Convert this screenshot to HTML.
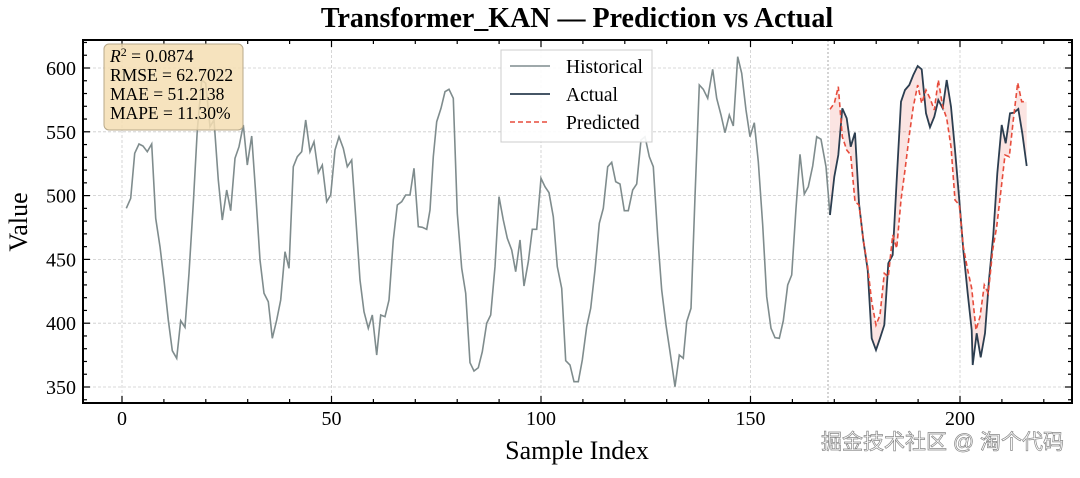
<!DOCTYPE html>
<html><head><meta charset="utf-8"><style>
body{margin:0;background:#fff;width:1080px;height:473px;overflow:hidden}
svg text{font-family:"Liberation Serif",serif}
</style></head><body>
<svg id="s" width="1080" height="473" xmlns="http://www.w3.org/2000/svg"></svg>
<script>
const s=document.getElementById('s');let h='';
const L=83,R=1072,T=40,B=403;
const X=v=>122+v*4.19, Y=v=>68+(600-v)*1.276;
for(let v=350;v<=600;v+=50)h+=`<line x1="${L}" x2="${R}" y1="${Y(v)}" y2="${Y(v)}" stroke="#ccc" stroke-width="0.8" stroke-dasharray="3,2"/>`;
for(let v=0;v<=200;v+=50)h+=`<line y1="${T}" y2="${B}" x1="${X(v)}" x2="${X(v)}" stroke="#ccc" stroke-width="0.8" stroke-dasharray="3,2"/>`;
h+=`<line y1="${T}" y2="${B}" x1="828" x2="828" stroke="#aaa" stroke-width="1" stroke-dasharray="2,2"/>`;
const tr=(a,ox,oy)=>a.map(p=>[ox+p[0]/3,oy+p[1]/3]);
const g1=tr([[130,505],[143,475],[155,340],[168,312],[180,318],[193,335],[206,312],[218,535],[231,620],[243,720],[256,840],[268,932],[281,955],[293,842],[306,862],[318,700],[331,490],[343,270],[356,120],[368,130],[381,260],[393,240],[406,420],[418,540],[431,450],[443,512],[456,355],[468,320],[481,255],[493,375],[506,288],[518,460],[531,660],[543,760],[556,785],[568,895],[581,840],[593,780],[606,635],[618,685],[631,380],[643,350],[656,335],[668,240],[681,335],[693,305],[706,398],[718,375],[731,485],[743,465],[756,330],[768,290],[781,325],[793,380],[806,360],[818,530],[831,720],[843,815],[856,865],[868,825],[881,945],[893,825],[906,830],[918,780],[931,600],[943,495],[956,485],[968,465],[981,465],[993,385],[1006,560],[1018,562],[1031,568]],83,40);
const g2=tr([[0,510],[10,350],[20,245],[33,205],[45,155],[57,148],[70,175],[82,520],[95,685],[107,760],[120,968],[132,993],[145,983],[157,935],[170,850],[182,825],[195,680],[207,470],[220,540],[232,595],[245,630],[257,695],[270,600],[282,738],[295,665],[307,568],[320,568],[333,415],[345,440],[357,458],[370,530],[382,680],[395,745],[407,962],[420,975],[432,1025],[445,1025],[457,960],[470,860],[482,805],[495,690],[508,550],[520,505],[533,380],[545,367],[557,425],[570,432],[583,512],[595,512],[608,450],[620,432],[633,300],[645,290],[658,350],[670,380],[683,590],[695,750],[708,855],[720,935],[735,1040],[748,945],[760,955],[770,845],[783,805],[795,470],[808,135],[820,148],[833,175],[848,88],[860,175],[873,225],[885,278],[898,225],[910,258],[923,50],[935,100],[948,210],[960,290],[973,248],[985,365],[998,555],[1010,770],[1023,865],[1035,893],[1048,895],[1060,842],[1073,735],[1085,705],[1098,505],[1110,343],[1123,462],[1135,440],[1148,378],[1160,290]],430,40);
const g3=tr([[63,298],[78,380],[90,525]],800,40);
const act=tr([[90,525],[103,410],[115,345],[127,205],[140,235],[152,320],[165,278],[177,490],[190,600],[203,690],[215,895],[228,930],[240,895],[253,855],[265,670],[278,645],[290,420],[303,185],[315,150],[328,135],[340,105],[353,78],[365,88],[378,220],[390,262],[403,230],[415,180],[428,205],[440,120],[453,200],[465,330],[478,480],[490,630],[503,760],[515,870],[518,975],[530,880],[542,952],[555,880],[567,720],[580,585],[592,400],[605,255],[617,310],[630,220],[642,218],[655,207],[667,280],[680,378]],800,40);
const pr=tr([[90,208],[103,190],[115,140],[127,290],[140,330],[152,345],[165,485],[177,495],[190,600],[203,680],[215,785],[228,855],[240,825],[253,700],[265,710],[278,585],[290,625],[303,480],[315,390],[328,285],[340,200],[353,135],[365,190],[378,150],[390,175],[403,210],[415,120],[428,200],[440,235],[453,320],[465,480],[478,495],[490,620],[503,690],[515,745],[528,870],[540,830],[553,735],[565,760],[578,630],[590,560],[603,450],[615,345],[628,350],[640,240],[653,128],[665,185],[680,185]],800,40);
const P=a=>a.map(p=>p[0].toFixed(1)+','+p[1].toFixed(1)).join(' ');
h+=`<polygon points="${P(act)} ${P(pr.slice().reverse())}" fill="#e74c3c" fill-opacity="0.15"/>`;
h+=`<polyline points="${P(g1.concat(g2,g3))}" fill="none" stroke="#7f8c8d" stroke-width="1.6"/>`;
h+=`<polyline points="${P(act)}" fill="none" stroke="#2c3e50" stroke-width="1.8"/>`;
h+=`<polyline points="${P(pr)}" fill="none" stroke="#e74c3c" stroke-width="1.6" stroke-dasharray="5,3"/>`;
h+=`<rect x="${L}" y="${T}" width="${R-L}" height="${B-T}" fill="none" stroke="#000" stroke-width="2"/>`;
for(let v=0;v<=220;v+=10){const x=X(v);const m=v%50==0;h+=`<line x1="${x}" x2="${x}" y1="${B}" y2="${B-(m?7:4)}" stroke="#000" stroke-width="1.2"/><line x1="${x}" x2="${x}" y1="${T}" y2="${T+(m?7:4)}" stroke="#000" stroke-width="1.2"/>`;
 if(m)h+=`<text x="${x}" y="425" font-size="20" text-anchor="middle">${v}</text>`;}
for(let v=340;v<=620;v+=10){const y=Y(v);if(y<T||y>B)continue;const m=v%50==0;h+=`<line x1="${L}" x2="${L+(m?7:4)}" y1="${y}" y2="${y}" stroke="#000" stroke-width="1.2"/><line x1="${R}" x2="${R-(m?7:4)}" y1="${y}" y2="${y}" stroke="#000" stroke-width="1.2"/>`;
 if(m)h+=`<text x="76" y="${y+7}" font-size="20" text-anchor="end">${v}</text>`;}
h+=`<text x="577" y="27" font-size="28" font-weight="bold" text-anchor="middle">Transformer_KAN — Prediction vs Actual</text>`;
h+=`<text x="577" y="459" font-size="26" text-anchor="middle">Sample Index</text>`;
h+=`<text transform="translate(27,222) rotate(-90)" font-size="26" text-anchor="middle">Value</text>`;
h+=`<rect x="104" y="44" width="139" height="86" rx="5" fill="#f5deb3" fill-opacity="0.85" stroke="#b8a98a"/>`;
h+=`<text font-size="17.5"><tspan x="110" y="62"><tspan font-style="italic">R</tspan><tspan dy="-6" font-size="12">2</tspan><tspan dy="6"> = 0.0874</tspan></tspan><tspan x="110" y="81">RMSE = 62.7022</tspan><tspan x="110" y="100">MAE = 51.2138</tspan><tspan x="110" y="119">MAPE = 11.30%</tspan></text>`;
h+=`<rect x="501" y="50" width="151" height="92" fill="#fff" fill-opacity="0.9" stroke="#ccc"/>`;
h+=`<line x1="510" x2="550" y1="66" y2="66" stroke="#7f8c8d" stroke-width="1.6"/><text x="566" y="73" font-size="19.5">Historical</text>`;
h+=`<line x1="510" x2="550" y1="94" y2="94" stroke="#2c3e50" stroke-width="1.8"/><text x="566" y="101" font-size="19.5">Actual</text>`;
h+=`<line x1="510" x2="550" y1="122" y2="122" stroke="#e74c3c" stroke-width="1.6" stroke-dasharray="5,3"/><text x="566" y="129" font-size="19.5">Predicted</text>`;
h+=`<text x="1064" y="449" font-size="21" text-anchor="end" fill="#fff" stroke="#888" stroke-width="0.7" style="font-family:'Liberation Sans','Noto Sans CJK SC',sans-serif">掘金技术社区 @ 淘个代码</text>`;
s.innerHTML=h;
</script>
</body></html>
